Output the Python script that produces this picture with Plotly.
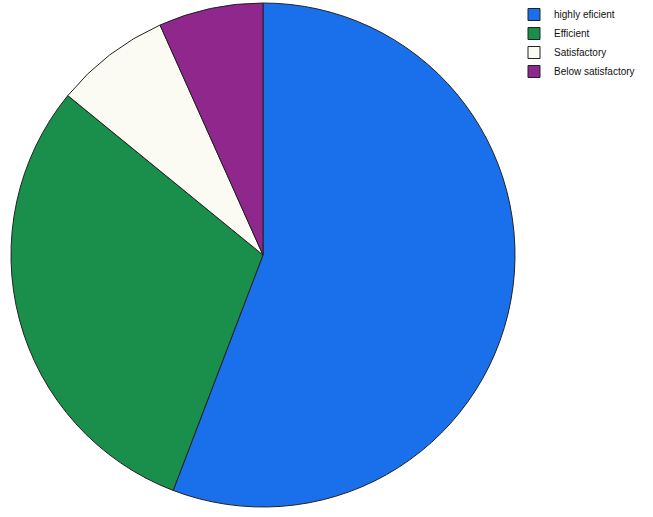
import plotly.graph_objects as go

categories = ["highly eficient", "Efficient", "Satisfactory", "Below satisfactory"]
values = [55.8, 30.1, 7.4, 6.7]
colors = ["#1a70ea", "#1a8f4c", "#fbfbf3", "#8f278d"]

W, H = 653, 517

fig = go.Figure(go.Pie(
    labels=categories,
    values=values,
    sort=False,
    direction="clockwise",
    rotation=0,
    textinfo="none",
    hoverinfo="label+percent",
    marker=dict(colors=colors, line=dict(color="#222222", width=1)),
    domain=dict(x=[11 / W, 515 / W], y=[10 / H, 514 / H]),
))

fig.update_layout(
    width=W, height=H,
    margin=dict(l=0, r=0, t=0, b=0, autoexpand=False),
    paper_bgcolor="white",
    plot_bgcolor="white",
    showlegend=True,
    legend=dict(
        x=514 / W, y=1, xanchor="left", yanchor="top",
        font=dict(family="Liberation Sans, Arial", size=10, color="#111111"),
        bgcolor="rgba(0,0,0,0)",
        tracegroupgap=0,
        itemwidth=30,
    ),
)

fig.write_html("out.html", config={"displayModeBar": False},
               post_script="document.body.style.margin='0';")
